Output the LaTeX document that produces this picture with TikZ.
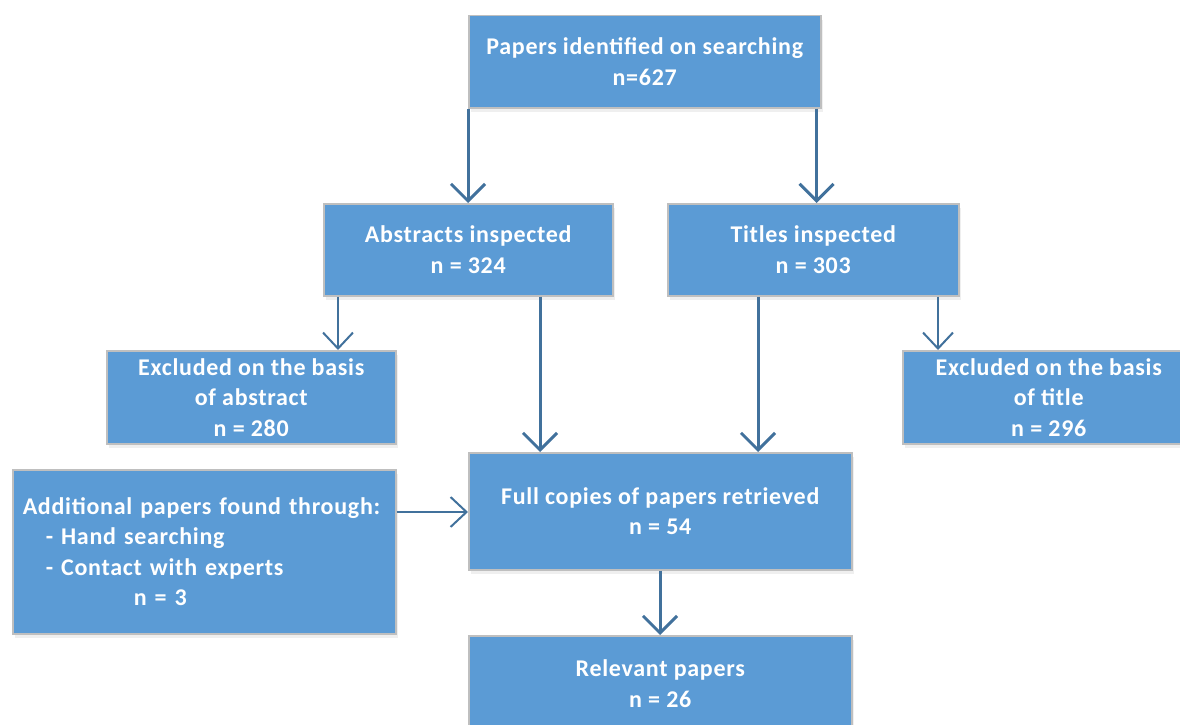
\documentclass[tikz,border=0pt]{standalone}
\usepackage{fontspec}
\setmainfont{Carlito}[LetterSpace=3]
\usetikzlibrary{arrows.meta,shadows}
\definecolor{boxfill}{HTML}{5B9BD5}
\definecolor{boxline}{HTML}{BFBFBF}
\definecolor{arrowc}{HTML}{41719C}
\tikzset{
  flowbox/.style={rectangle, fill=boxfill, draw=boxline, line width=1.5pt,
    text=white, font=\bfseries\fontsize{24}{30.5}\selectfont, align=center,
    inner sep=0pt, anchor=north west,
    drop shadow={opacity=0.12, shadow xshift=2pt, shadow yshift=-4pt}},
  bigarrow/.style={draw=arrowc, line width=3pt, -{Straight Barb[length=17pt, width=34pt, line width=3pt]}},
  smallarrow/.style={draw=arrowc, line width=2pt, -{Straight Barb[length=16pt, width=30pt, line width=2pt]}}
}
\begin{document}
\begin{tikzpicture}[x=1pt,y=-1pt]
\useasboundingbox (0,0) rectangle (1180,725);
\clip (0,0) rectangle (1180,725);
\fill[white] (0,0) rectangle (1180,725);
\node[flowbox, minimum width=352pt, minimum height=92pt] (top) at (468,15) {Papers identified on searching\\n=627};
\node[flowbox, minimum width=289pt, minimum height=92pt] (abs) at (323,203) {Abstracts inspected\\n = 324};
\node[flowbox, minimum width=291pt, minimum height=92pt] (tit) at (667,203) {Titles inspected\\n = 303};
\node[flowbox, minimum width=289pt, minimum height=93pt] (exa) at (106,350) {Excluded on the basis\\of abstract\\n = 280};
\node[flowbox, minimum width=292pt, minimum height=93pt] (ext) at (902,350) {Excluded on the basis\\of title\\n = 296};
\node[flowbox, text width=383pt, minimum height=164pt, align=left] (add) at (12,469) {\hspace*{10pt}Additional papers found through:\\\hspace*{33pt}- Hand searching\\\hspace*{33pt}- Contact with experts\\\hspace*{121pt}n = 3};
\node[flowbox, minimum width=383pt, minimum height=117pt] (full) at (468,452) {Full copies of papers retrieved\\n = 54};
\node[flowbox, minimum width=383pt, minimum height=96pt] (rel) at (468,635) {Relevant papers\\n = 26};
% connectors
\draw[bigarrow] (top.south west) coordinate (t1) -- (t1 |- abs.north);
\draw[bigarrow] ([xshift=-5pt]top.south east) coordinate (t2) -- (t2 |- tit.north);
\draw[smallarrow] ([xshift=15pt]abs.south west) coordinate (a1) -- (a1 |- exa.north);
\draw[bigarrow] ([xshift=217pt]abs.south west) coordinate (a2) -- (a2 |- full.north);
\draw[bigarrow] ([xshift=91pt]tit.south west) coordinate (b1) -- (b1 |- full.north);
\draw[smallarrow] ([xshift=271pt]tit.south west) coordinate (b2) -- (b2 |- ext.north);
\draw[smallarrow] ([yshift=-43pt]add.north east) coordinate (c1) -- (c1 -| full.west);
\draw[bigarrow] ([xshift=192pt]full.south west) coordinate (d1) -- (d1 |- rel.north);
\end{tikzpicture}
\end{document}
